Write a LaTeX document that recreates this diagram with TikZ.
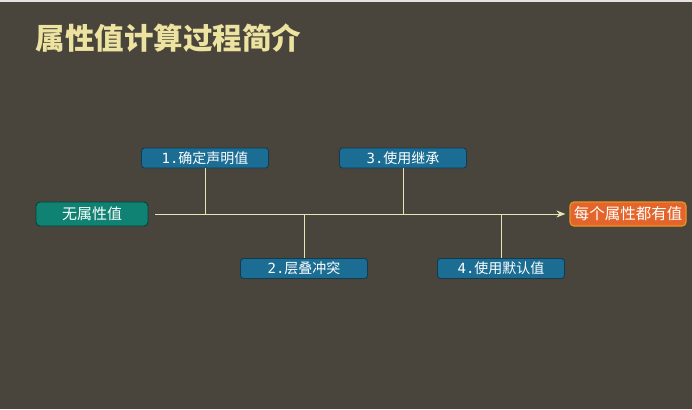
\documentclass[tikz,border=0pt]{standalone}
\usepackage{fontspec}
\setmainfont{Noto Sans CJK SC}
\newfontfamily\numf{DejaVu Sans Mono}
\usetikzlibrary{arrows.meta}
\definecolor{bgc}{HTML}{4A453C}
\definecolor{ttl}{HTML}{EDE3A0}
\definecolor{lnc}{HTML}{E9E4B4}
\definecolor{stpb}{HTML}{1B6D94}
\definecolor{strt}{HTML}{0F8273}
\definecolor{endo}{HTML}{E4652C}
\newcommand\stnum[1]{{\numf #1.}}
\tikzset{
  stp/.style={draw=stpb!55!black,line width=.9pt,fill=stpb,rounded corners=3pt,
              text=white,minimum width=127pt,minimum height=20pt,inner sep=0pt,
              font=\fontsize{14}{15}\selectfont},
  strt/.style={draw=strt!50!black,line width=.9pt,fill=strt,rounded corners=4pt,
              text=white,minimum width=112pt,minimum height=24pt,inner sep=0pt,
              font=\fontsize{15}{16}\selectfont},
  endn/.style={draw=endo!70!yellow,line width=1.2pt,fill=endo,rounded corners=4pt,
              text=white,minimum width=116pt,minimum height=24pt,inner sep=0pt,
              font=\fontsize{15.5}{16}\selectfont},
  ln/.style ={draw=lnc,line width=1pt},
  ar/.style ={ln,-{Stealth[length=9pt,width=7pt]}},
}
\begin{document}
\begin{tikzpicture}[x=1pt,y=-1pt]
  \fill[bgc] (0,0) rectangle (692,409);
  \fill[white!85!bgc] (0,0) rectangle (692,2);
  \node[font=\fontsize{29.5}{30}\selectfont\bfseries,text=ttl,anchor=west] (title) at (32,38){属性值计算过程简介};
  \node[strt] (start) at (92,214){无属性值};
  \node[endn] (goal) at (628,214){每个属性都有值};
  \node[stp] (s1) at (205,158){\stnum{1}确定声明值};
  \node[stp] (s2) at (304,268.5){\stnum{2}层叠冲突};
  \node[stp] (s3) at (403,158){\stnum{3}使用继承};
  \node[stp] (s4) at (501,268.5){\stnum{4}使用默认值};
  \draw[ar,shorten <=7pt,shorten >=4pt] (start) -- (goal);
  \foreach \s in {s1,s2,s3,s4} \draw[ln] (\s) -- (\s |- start);
\end{tikzpicture}
\end{document}
